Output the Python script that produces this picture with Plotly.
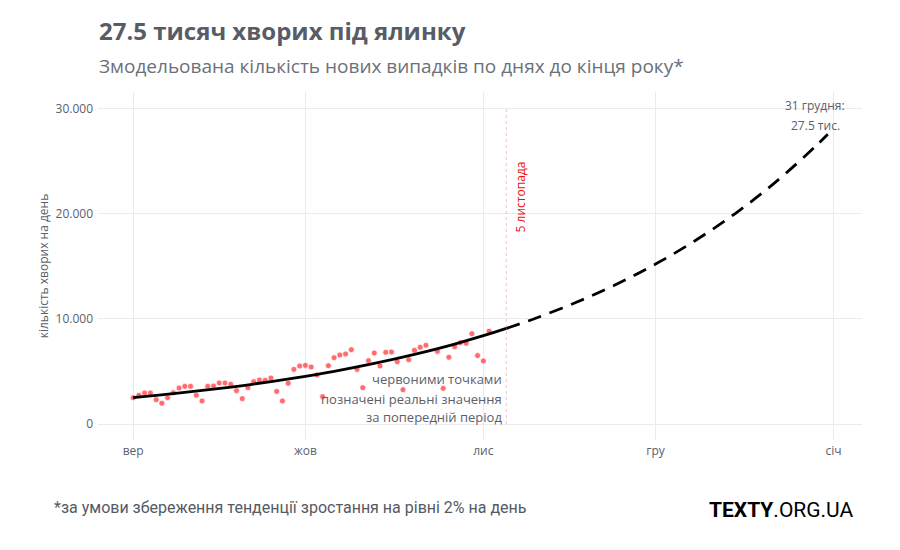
import datetime as dt
import plotly.graph_objects as go

# ---- data ----
start = dt.date(2020, 9, 1)
# observed daily new cases, Sep 1 .. Nov 2 (None = not visible)
observed = [2500, 2730, 2950, 2950, 2310, 1970, 2500, 2970, 3420, 3580,
            3580, 2730, 2190, 3580, 3610, 3900, 3900, 3770, 3170, 2410,
            3450, 4020, 4180, 4150, 4370, 3100, 2190, 3870, 5190, 5510,
            5570, 5420, 4650, 2600, 5540, 6300, 6560, 6650, 7060, 5190,
            3450, 6020, 6750, 5510, 6810, 6840, 5920, 3260, 6110, 7000,
            7290, 7480, None, 6900, 3390, 6340, 7350, 7730, 7670, 8580,
            6500, 5990, 8820]
obs_dates = [start + dt.timedelta(days=i) for i in range(len(observed))]

# trend line (solid = fitted period, dashed = projection)
trend_dates = ["2020-09-01", "2020-09-08", "2020-09-15", "2020-09-22", "2020-09-29",
               "2020-10-06", "2020-10-13", "2020-10-20", "2020-10-27", "2020-11-03",
               "2020-11-05"]
trend_vals = [2510, 2880, 3310, 3800, 4370, 5010, 5760, 6620, 7600, 8730, 9080]
proj_dates = ["2020-11-05", "2020-11-10", "2020-11-17", "2020-11-24", "2020-12-01",
              "2020-12-08", "2020-12-15", "2020-12-22", "2020-12-29", "2020-12-31"]
proj_vals = [9080, 10030, 11520, 13230, 15200, 17460, 20050, 23030, 26460, 27530]

tick_vals = ["2020-09-01", "2020-10-01", "2020-11-01", "2020-12-01", "2021-01-01"]
tick_text = ["вер", "жов", "лис", "гру", "січ"]
y_ticks = [0, 10000, 20000, 30000]
y_text = ["0", "10.000", "20.000", "30.000"]

# ---- layout helpers (screen pixel -> paper) ----
OFF = 8  # page body margin
W, H = 900 - 2 * OFF, 550 - 2 * OFF
L, R, T, B = 97.5, 861.7, 92, 440
def px(x): return (x - L) / (R - L)
def py(y): return (B - y) / (B - T)

GRAY = "#5b606b"
fig = go.Figure()
fig.add_trace(go.Scatter(x=obs_dates, y=observed, mode="markers",
                         marker=dict(color="rgba(255,70,75,0.8)", size=6,
                                     line=dict(color="white", width=0.8)),
                         showlegend=False, hoverinfo="skip"))
fig.add_trace(go.Scatter(x=trend_dates, y=trend_vals, mode="lines", line_shape="spline",
                         line=dict(color="black", width=2.8), showlegend=False))
fig.add_trace(go.Scatter(x=proj_dates, y=proj_vals, mode="lines", line_shape="spline",
                         line=dict(color="black", width=2.8, dash="14px,9px"),
                         showlegend=False))

fig.add_shape(type="line", x0="2020-11-05", x1="2020-11-05", y0=0, y1=30000,
              line=dict(color="rgba(240,110,130,0.45)", width=1, dash="3px,3px"))

ann = []
def A(text, x, y, size, color=GRAY, xa="left", ya="middle", family="Open Sans", angle=0):
    ann.append(dict(text=text, x=px(x), y=py(y), xref="paper", yref="paper",
                    xanchor=xa, yanchor=ya, showarrow=False, textangle=angle,
                    font=dict(size=size, color=color, family=family)))

A("<b>27.5 тисяч хворих під ялинку</b>", 96, 30, 24, color="#575c66")
A("Змодельована кількість нових випадків по днях до кінця року*", 96, 66, 19, color="#6b7079")
A("*за умови збереження тенденції зростання на рівні 2% на день", 51, 507, 16,
  color="#555a63", family="Roboto")
A("<b>TEXTY</b>.ORG.UA", 856, 510, 21, color="black", xa="right", family="Roboto")
A("червоними точками", 504, 379, 13, xa="right")
A("позначені реальні значення", 504, 399, 13, xa="right")
A("за попередній період", 504, 417, 13, xa="right")
A("31 грудня:", 815, 105, 12, xa="center")
A("27.5 тис.", 815, 125, 12, xa="center")
A("5 листопада", 520, 197, 12, color="#ee1111", xa="center", angle=-90)

fig.update_layout(
    width=W, height=H,
    margin=dict(l=L - OFF, r=W - (R - OFF), t=T - OFF, b=H - (B - OFF)),
    paper_bgcolor="white", plot_bgcolor="white",
    annotations=ann,
    font=dict(family="Open Sans", color=GRAY),
    xaxis=dict(type="date", range=["2020-08-25 21:00", "2021-01-05 23:00"],
               tickvals=tick_vals, ticktext=tick_text, showgrid=True,
               gridcolor="#ebebeb", gridwidth=1, zeroline=False, showline=False,
               tickfont=dict(size=12, color=GRAY), ticks="", ticklabelstandoff=2),
    yaxis=dict(range=[-1520, 31550], tickvals=y_ticks, ticktext=y_text,
               showgrid=True, gridcolor="#ebebeb", gridwidth=1, zeroline=False,
               tickfont=dict(size=12, color=GRAY), ticks="", ticklabelstandoff=4,
               title=dict(text="кількість хворих на день", font=dict(size=12, color=GRAY),
                          standoff=4)),
)
fig.write_html("out.html")
